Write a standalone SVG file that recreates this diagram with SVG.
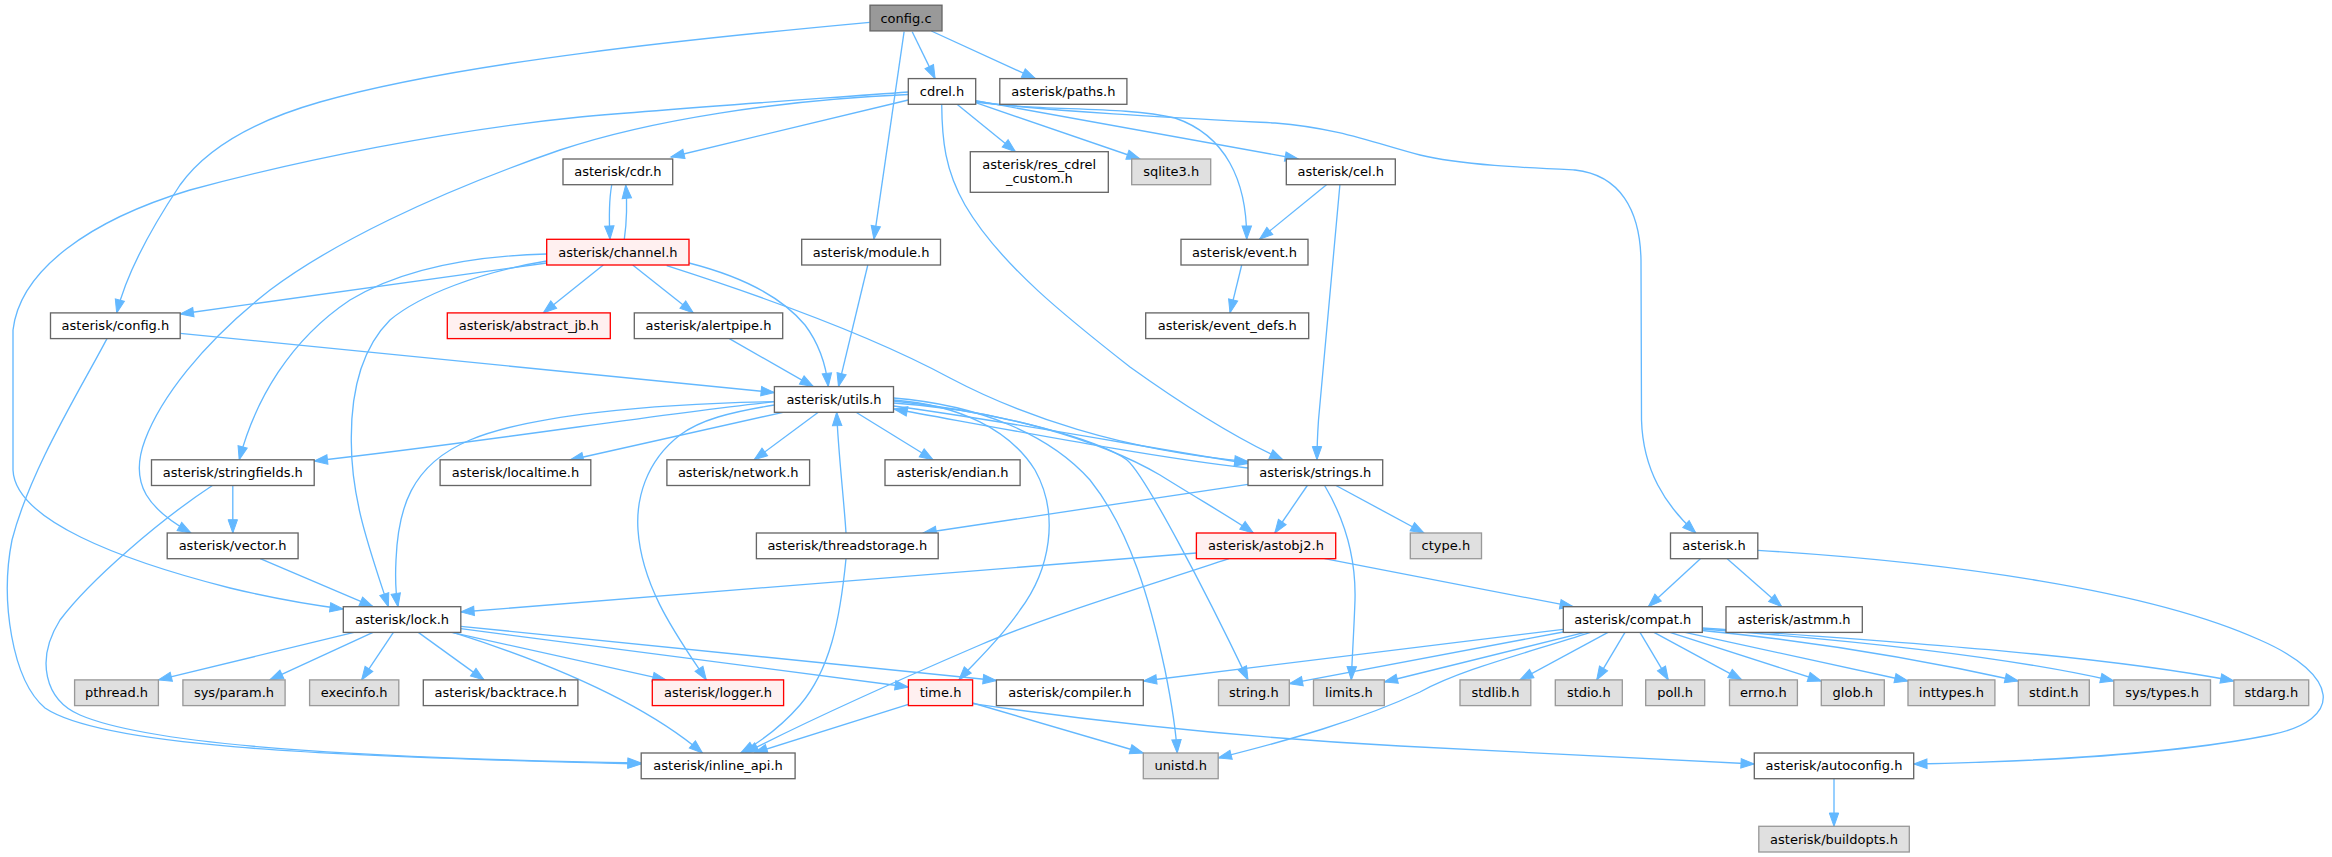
<svg xmlns="http://www.w3.org/2000/svg" width="2332" height="857" viewBox="0 0 2332 857">
<style>
text{font-family:"DejaVu Sans","Noto Sans",sans-serif;font-size:13px;text-anchor:middle;fill:#000}
.n rect{fill:#fff;stroke:#666;stroke-width:1.33}
.g rect{fill:#e0e0e0;stroke:#999;stroke-width:1.33}
.r rect{fill:#fff0f0;stroke:#f00;stroke-width:1.33}
.root rect{fill:#999;stroke:#666;stroke-width:1.33}
#edges path{fill:none;stroke:#63b8ff;stroke-width:1.33;marker-end:url(#ah)}
</style>
<defs>
<marker id="ah" markerUnits="userSpaceOnUse" markerWidth="14" markerHeight="10" refX="13.3" refY="4.7" orient="auto" overflow="visible">
<path d="M0,0 L13.3,4.7 L0,9.4 z" fill="#63b8ff" stroke="#63b8ff" stroke-width="1"/>
</marker>
</defs>
<rect width="2332" height="857" fill="#fff"/>
<g id="edges">
<path d="M869.7,22.3 C700,38 460,62 320,102 C250,122 205,150 180,185 C150,230 126,275 116.7,313"/>
<path d="M912.2,31.7 L935.1,78.6"/>
<path d="M931.3,31 L1035.4,78.6"/>
<path d="M904.1,31.7 L873.9,239.3"/>
<path d="M908.3,100 L671,157"/>
<path d="M956.7,104 L1015.5,151.7"/>
<path d="M975.7,102.7 L1140,159"/>
<path d="M975.7,100.7 L1298.3,159"/>
<path d="M975.7,101 C1030,112 1120,105 1175,118 C1225,135 1247,180 1246.7,239.3"/>
<path d="M975.7,102 C1060,112 1180,118 1275,123 C1340,128 1380,145 1420,155 C1460,165 1530,168 1575,170 C1620,175 1640,210 1641,260 L1641.5,420 C1643,470 1665,505 1695.8,533"/>
<path d="M941.7,104 C942,140 945,170 965,205 C1000,265 1070,320 1130,367 C1190,410 1240,440 1283,459.8"/>
<path d="M908.3,94.5 C780,100 650,120 560,150 C430,195 330,245 270,290 C200,345 160,400 145,440 C128,485 150,510 191,533"/>
<path d="M908.3,92 C800,100 680,108 580,117 C450,130 300,160 190,190 C90,220 20,270 13,330 L13,470 C15,520 120,560 230,588 C280,600 320,606 343.3,609"/>
<path d="M624.3,239.3 C627,220 627,200 625.7,185"/>
<path d="M611.7,185 C609,200 609,220 610,239.3"/>
<path d="M603.3,265 L543.3,312.9"/>
<path d="M632.7,265 L693.3,312.9"/>
<path d="M689,263 C740,276 780,295 805,325 C820,345 826,365 828.3,386.6"/>
<path d="M666.7,265.7 C780,302 880,340 950,378 C1020,415 1120,450 1248,461.5"/>
<path d="M546.7,263 L180.2,314"/>
<path d="M546.7,254 C470,256 400,270 350,300 C290,340 255,400 239.2,459.8"/>
<path d="M546.7,261 C480,272 420,295 390,320 C360,350 351,395 351.3,440 C351,500 370,550 388.4,606.7"/>
<path d="M867.8,265 L838.5,386.6"/>
<path d="M729.3,338.6 L813.3,386.6"/>
<path d="M180.2,333.3 L774.4,392.5"/>
<path d="M107,338.6 C80,390 30,470 12,540 C0,600 12,680 45,708 C100,745 300,756 641.2,764"/>
<path d="M212.4,485.5 C160,520 90,580 60,620 C35,660 45,700 80,715 C150,745 350,758 641.2,763"/>
<path d="M232.8,485.5 L232.8,533"/>
<path d="M260.2,558.7 L373,606.7"/>
<path d="M774.4,401.7 C650,415 500,440 314.2,461"/>
<path d="M783,412.3 L570,460"/>
<path d="M818.3,412.3 L754.1,459.8"/>
<path d="M856,412.3 L933,459.8"/>
<path d="M846,533 C844,500 838,450 836.7,412.3"/>
<path d="M774.4,401.7 C650,404 530,415 470,440 C410,465 398,510 396,560 C395,580 396,595 398,606.7"/>
<path d="M774.4,405 C730,412 700,420 680,435 C645,462 636,500 638,530 C642,590 680,640 706.3,679.9"/>
<path d="M893.5,400 C960,405 1010,430 1035,470 C1060,515 1050,570 1020,610 C1000,640 975,662 958.9,679.9"/>
<path d="M893.5,398 C980,405 1050,435 1090,480 C1130,530 1150,600 1165,670 C1172,705 1176,730 1177.2,753"/>
<path d="M893.5,401 C1000,412 1100,440 1127,460 C1145,475 1205,590 1248,679.9"/>
<path d="M893.5,403 C1000,410 1100,440 1160,475 C1200,500 1235,520 1253.3,533"/>
<path d="M893.5,406 C1000,420 1150,448 1248,463.5"/>
<path d="M1248,468 C1150,457 1000,428 894,409"/>
<path d="M1307.3,485.5 L1274.8,533"/>
<path d="M1324.6,485.5 C1345,520 1356,560 1355,600 C1354,630 1352,660 1351.3,679.9"/>
<path d="M1336,485.5 L1424,533"/>
<path d="M1248,484.3 L923,533"/>
<path d="M1339.9,184.7 L1318.5,420 C1317.5,435 1317,448 1317,459.8"/>
<path d="M1326.5,184.7 L1259.5,239.3"/>
<path d="M1241.7,265 L1230,312.9"/>
<path d="M1324.6,558.7 L1573.3,606.7"/>
<path d="M1196.4,553 L460.8,612"/>
<path d="M1229,558.7 C1150,585 1050,615 980,645 C880,688 790,730 745,753"/>
<path d="M846,558.7 C840,620 830,670 800,705 C780,728 760,742 740.7,753"/>
<path d="M354,632.4 L158.4,679.9"/>
<path d="M373,632.4 L269.8,679.9"/>
<path d="M393.4,632.4 L361.6,679.9"/>
<path d="M418.3,632.4 L484,679.9"/>
<path d="M460.8,626.3 L996.4,680.5"/>
<path d="M460.8,628.7 L908.4,687"/>
<path d="M451.6,632.4 L666,679.9"/>
<path d="M453,632.4 C540,660 640,700 702.5,753"/>
<path d="M908.4,704.3 L754.1,753"/>
<path d="M972.6,703 L1143.3,753"/>
<path d="M972.6,703.7 C1100,722 1250,738 1400,746 C1550,754 1680,760 1754.3,764"/>
<path d="M1563.3,629.3 L1143.3,681"/>
<path d="M1563.3,632 L1289.3,683.7"/>
<path d="M1584.8,632.4 L1384.3,682"/>
<path d="M1590.5,632.4 C1520,655 1460,670 1420,692 C1360,720 1290,740 1218.2,758"/>
<path d="M1608,632.4 L1520,679.9"/>
<path d="M1625,632.4 L1596.7,679.9"/>
<path d="M1640,632.4 L1668.3,679.9"/>
<path d="M1654,632.4 L1741.7,679.9"/>
<path d="M1670,632.4 L1821.3,681"/>
<path d="M1685,632.4 L1908,681"/>
<path d="M1702.3,630.5 C1800,640 1900,655 2018.3,681"/>
<path d="M1702.3,629 C1850,640 2000,655 2113.8,681"/>
<path d="M1702.3,628 C1900,642 2100,655 2233.9,681"/>
<path d="M1700.4,558.7 L1648.3,606.7"/>
<path d="M1727.2,558.7 L1781.7,606.7"/>
<path d="M1757.8,550.3 C1950,562 2150,590 2260,640 C2340,675 2345,720 2270,735 C2170,755 2020,762 1913.7,764"/>
<path d="M1834,778.7 L1834,826.3"/>
</g>
<g id="n_config_c" class="root"><rect x="870" y="5.2" width="72" height="25.7"/><text x="906" y="22.5">config.c</text></g>
<g id="n_cdrel" class="n"><rect x="908.3" y="78.6" width="67.4" height="25.7"/><text x="942" y="95.9">cdrel.h</text></g>
<g id="n_paths" class="n"><rect x="999.8" y="78.6" width="127.1" height="25.7"/><text x="1063.4" y="95.9">asterisk/paths.h</text></g>
<g id="n_cdr" class="n"><rect x="563" y="159" width="109.7" height="25.7"/><text x="617.9" y="176.3">asterisk/cdr.h</text></g>
<g id="n_res_cdrel_custom" class="n"><rect x="970.3" y="151.7" width="138" height="40.6"/><text x="1039.3" y="168.5">asterisk/res_cdrel</text><text x="1039.3" y="183">_custom.h</text></g>
<g id="n_sqlite3" class="g"><rect x="1131.7" y="159" width="79" height="25.7"/><text x="1171.2" y="176.3">sqlite3.h</text></g>
<g id="n_cel" class="n"><rect x="1286.3" y="159" width="109" height="25.7"/><text x="1340.8" y="176.3">asterisk/cel.h</text></g>
<g id="n_channel" class="r"><rect x="546.7" y="239.3" width="142.3" height="25.7"/><text x="617.9" y="256.6">asterisk/channel.h</text></g>
<g id="n_module" class="n"><rect x="801.7" y="239.3" width="138.8" height="25.7"/><text x="871.1" y="256.6">asterisk/module.h</text></g>
<g id="n_event" class="n"><rect x="1181" y="239.3" width="127" height="25.7"/><text x="1244.5" y="256.6">asterisk/event.h</text></g>
<g id="n_config_h" class="n"><rect x="50.5" y="312.9" width="129.7" height="25.7"/><text x="115.4" y="330.2">asterisk/config.h</text></g>
<g id="n_abstract_jb" class="r"><rect x="447.3" y="312.9" width="163" height="25.7"/><text x="528.8" y="330.2">asterisk/abstract_jb.h</text></g>
<g id="n_alertpipe" class="n"><rect x="634.3" y="312.9" width="148.4" height="25.7"/><text x="708.5" y="330.2">asterisk/alertpipe.h</text></g>
<g id="n_event_defs" class="n"><rect x="1145.7" y="312.9" width="163" height="25.7"/><text x="1227.2" y="330.2">asterisk/event_defs.h</text></g>
<g id="n_utils" class="n"><rect x="774.4" y="386.6" width="119.1" height="25.7"/><text x="834" y="403.9">asterisk/utils.h</text></g>
<g id="n_stringfields" class="n"><rect x="151.5" y="459.8" width="162.7" height="25.7"/><text x="232.8" y="477.1">asterisk/stringfields.h</text></g>
<g id="n_localtime" class="n"><rect x="440.1" y="459.8" width="150.7" height="25.7"/><text x="515.5" y="477.1">asterisk/localtime.h</text></g>
<g id="n_network" class="n"><rect x="666.9" y="459.8" width="142.7" height="25.7"/><text x="738.2" y="477.1">asterisk/network.h</text></g>
<g id="n_endian" class="n"><rect x="885" y="459.8" width="135.1" height="25.7"/><text x="952.5" y="477.1">asterisk/endian.h</text></g>
<g id="n_strings" class="n"><rect x="1248" y="459.8" width="134.7" height="25.7"/><text x="1315.3" y="477.1">asterisk/strings.h</text></g>
<g id="n_vector" class="n"><rect x="167.2" y="533" width="130.9" height="25.7"/><text x="232.6" y="550.3">asterisk/vector.h</text></g>
<g id="n_threadstorage" class="n"><rect x="756.4" y="533" width="181.8" height="25.7"/><text x="847.3" y="550.3">asterisk/threadstorage.h</text></g>
<g id="n_astobj2" class="r"><rect x="1196.4" y="533" width="139.3" height="25.7"/><text x="1266" y="550.3">asterisk/astobj2.h</text></g>
<g id="n_ctype" class="g"><rect x="1410.3" y="533" width="71.2" height="25.7"/><text x="1445.9" y="550.3">ctype.h</text></g>
<g id="n_asterisk" class="n"><rect x="1670.5" y="533" width="87.3" height="25.7"/><text x="1714.1" y="550.3">asterisk.h</text></g>
<g id="n_lock" class="n"><rect x="343.3" y="606.7" width="117.5" height="25.7"/><text x="402" y="624">asterisk/lock.h</text></g>
<g id="n_compat" class="n"><rect x="1563.3" y="606.7" width="139" height="25.7"/><text x="1632.8" y="624">asterisk/compat.h</text></g>
<g id="n_astmm" class="n"><rect x="1726" y="606.7" width="136.3" height="25.7"/><text x="1794.1" y="624">asterisk/astmm.h</text></g>
<g id="n_pthread" class="g"><rect x="74.6" y="679.9" width="83.8" height="25.7"/><text x="116.5" y="697.2">pthread.h</text></g>
<g id="n_sys_param" class="g"><rect x="182.9" y="679.9" width="102.2" height="25.7"/><text x="234" y="697.2">sys/param.h</text></g>
<g id="n_execinfo" class="g"><rect x="309.6" y="679.9" width="89.2" height="25.7"/><text x="354.2" y="697.2">execinfo.h</text></g>
<g id="n_backtrace" class="n"><rect x="423.3" y="679.9" width="154.6" height="25.7"/><text x="500.6" y="697.2">asterisk/backtrace.h</text></g>
<g id="n_logger" class="r"><rect x="652.3" y="679.9" width="131.3" height="25.7"/><text x="718" y="697.2">asterisk/logger.h</text></g>
<g id="n_time" class="r"><rect x="908.4" y="679.9" width="64.2" height="25.7"/><text x="940.5" y="697.2">time.h</text></g>
<g id="n_compiler" class="n"><rect x="996.4" y="679.9" width="146.9" height="25.7"/><text x="1069.8" y="697.2">asterisk/compiler.h</text></g>
<g id="n_string" class="g"><rect x="1218.5" y="679.9" width="70.8" height="25.7"/><text x="1253.9" y="697.2">string.h</text></g>
<g id="n_limits" class="g"><rect x="1313.5" y="679.9" width="70.8" height="25.7"/><text x="1348.9" y="697.2">limits.h</text></g>
<g id="n_stdlib" class="g"><rect x="1460" y="679.9" width="70.8" height="25.7"/><text x="1495.4" y="697.2">stdlib.h</text></g>
<g id="n_stdio" class="g"><rect x="1555.3" y="679.9" width="67" height="25.7"/><text x="1588.8" y="697.2">stdio.h</text></g>
<g id="n_poll" class="g"><rect x="1645.7" y="679.9" width="59" height="25.7"/><text x="1675.2" y="697.2">poll.h</text></g>
<g id="n_errno" class="g"><rect x="1729.5" y="679.9" width="67.9" height="25.7"/><text x="1763.4" y="697.2">errno.h</text></g>
<g id="n_glob" class="g"><rect x="1821.3" y="679.9" width="63" height="25.7"/><text x="1852.8" y="697.2">glob.h</text></g>
<g id="n_inttypes" class="g"><rect x="1908" y="679.9" width="86.9" height="25.7"/><text x="1951.4" y="697.2">inttypes.h</text></g>
<g id="n_stdint" class="g"><rect x="2018.3" y="679.9" width="71" height="25.7"/><text x="2053.8" y="697.2">stdint.h</text></g>
<g id="n_sys_types" class="g"><rect x="2113.8" y="679.9" width="96.7" height="25.7"/><text x="2162.1" y="697.2">sys/types.h</text></g>
<g id="n_stdarg" class="g"><rect x="2233.9" y="679.9" width="74.8" height="25.7"/><text x="2271.3" y="697.2">stdarg.h</text></g>
<g id="n_inline_api" class="n"><rect x="641.2" y="753" width="153.9" height="25.7"/><text x="718.1" y="770.3">asterisk/inline_api.h</text></g>
<g id="n_unistd" class="g"><rect x="1143.3" y="753" width="74.9" height="25.7"/><text x="1180.7" y="770.3">unistd.h</text></g>
<g id="n_autoconfig" class="n"><rect x="1754.3" y="753" width="159.4" height="25.7"/><text x="1834" y="770.3">asterisk/autoconfig.h</text></g>
<g id="n_buildopts" class="g"><rect x="1758.8" y="826.3" width="150.5" height="25.7"/><text x="1834" y="843.6">asterisk/buildopts.h</text></g>
</svg>
